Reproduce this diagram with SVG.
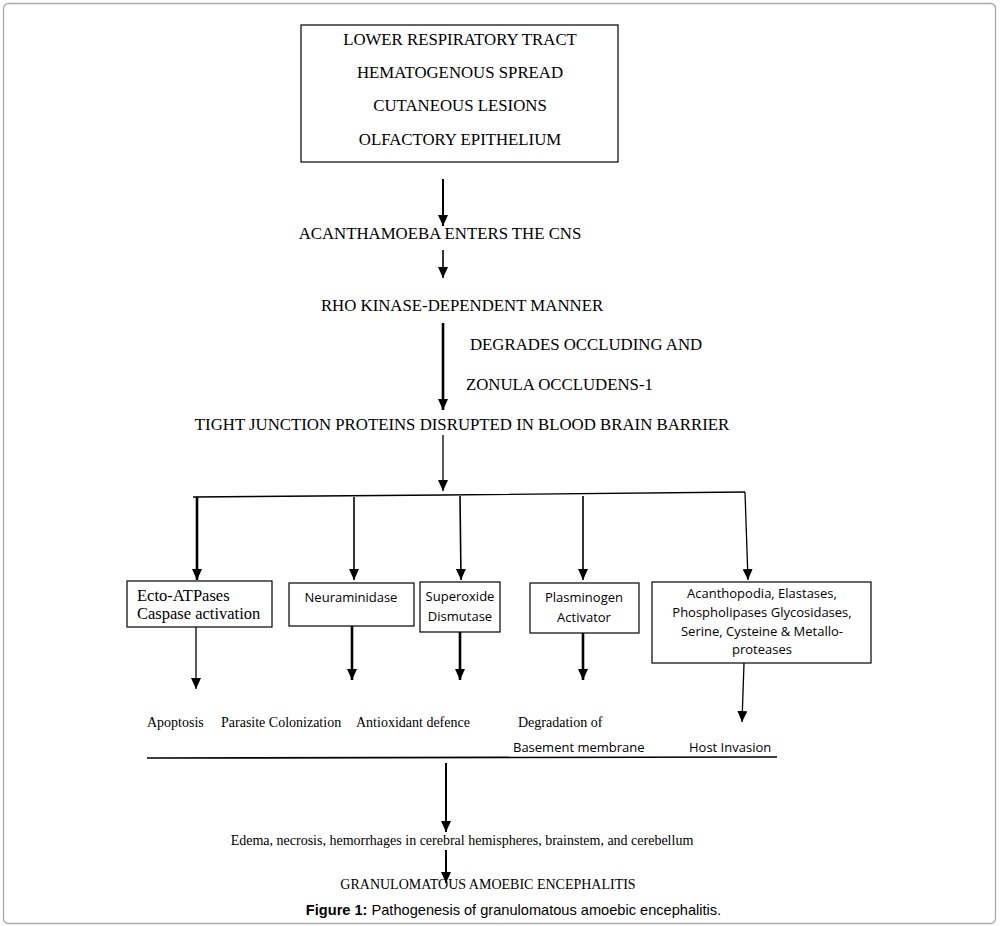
<svg xmlns="http://www.w3.org/2000/svg" width="1001" height="926" viewBox="0 0 1001 926">
<defs>
<marker id="ah" markerUnits="userSpaceOnUse" markerWidth="12" markerHeight="10" viewBox="0 0 12 10" refX="11" refY="5" orient="auto">
<path d="M0,0 L11,5 L0,10 Z" fill="#000"/>
</marker>
<style>
.serif{font-family:"Liberation Serif","Times New Roman",serif;fill:#000}
.sans{font-family:"Open Sans","Noto Sans",sans-serif;fill:#000}
.cap{font-family:"Liberation Sans",Arial,sans-serif;fill:#000;font-size:14.6px}
.box{fill:#fff;stroke:#000;stroke-width:1.2}
.ln{stroke:#000;stroke-width:1.3;fill:none}
.thk{stroke:#000;stroke-width:2.6;fill:none}
.big{font-size:16.8px}
.mid{font-size:16.5px}
.sm{font-size:13px}
.ss{font-size:14px}
</style>
</defs>
<rect x="0" y="0" width="1001" height="926" fill="#fff"/>
<rect x="3.5" y="3.5" width="992" height="920" rx="5" fill="none" stroke="#aaa" stroke-width="1.3"/>

<g id="connectors">
<line class="ln" x1="443" y1="179" x2="443" y2="226" marker-end="url(#ah)" style="stroke-width:2"/>
<line class="ln" x1="443" y1="250" x2="443" y2="278" marker-end="url(#ah)" style="stroke-width:1.6"/>
<line class="thk" x1="443" y1="323" x2="443" y2="410" marker-end="url(#ah)"/>
<line class="ln" x1="443" y1="435" x2="443" y2="491" marker-end="url(#ah)"/>
<polyline class="ln" points="193,497 443,495 745,492"/>
<line class="thk" x1="197" y1="497" x2="197" y2="580" marker-end="url(#ah)"/>
<line class="ln" x1="354" y1="497" x2="354" y2="580" marker-end="url(#ah)" style="stroke-width:1.6"/>
<line class="ln" x1="460" y1="496" x2="461" y2="580" marker-end="url(#ah)" style="stroke-width:1.6"/>
<line class="ln" x1="583" y1="496" x2="583" y2="580" marker-end="url(#ah)" style="stroke-width:1.6"/>
<line class="ln" x1="745" y1="492" x2="748" y2="580" marker-end="url(#ah)"/>
<line class="ln" x1="196" y1="627" x2="196" y2="689" marker-end="url(#ah)"/>
<line class="thk" x1="352" y1="626" x2="352" y2="680" marker-end="url(#ah)"/>
<line class="thk" x1="460" y1="632" x2="460" y2="680" marker-end="url(#ah)"/>
<line class="thk" x1="583" y1="633" x2="583" y2="680" marker-end="url(#ah)"/>
<line class="ln" x1="744" y1="663" x2="742" y2="722" marker-end="url(#ah)"/>
<line class="ln" x1="147" y1="758" x2="777" y2="757" style="stroke-width:1.6"/>
<line class="ln" x1="446" y1="763" x2="446" y2="832" marker-end="url(#ah)" style="stroke-width:2"/>
<line class="ln" x1="446" y1="850" x2="446" y2="883" marker-end="url(#ah)" style="stroke-width:2"/>
</g>

<g id="routes">
<rect class="box" x="301" y="25" width="317" height="137"/>
<text class="serif big" x="460" y="45" text-anchor="middle">LOWER RESPIRATORY TRACT</text>
<text class="serif big" x="460" y="78" text-anchor="middle">HEMATOGENOUS SPREAD</text>
<text class="serif big" x="460" y="111" text-anchor="middle">CUTANEOUS LESIONS</text>
<text class="serif big" x="460" y="145" text-anchor="middle">OLFACTORY EPITHELIUM</text>
</g>

<g id="enters">
<text class="serif big" x="440" y="239" text-anchor="middle">ACANTHAMOEBA ENTERS THE CNS</text>
</g>
<g id="rho">
<text class="serif big" x="462" y="311" text-anchor="middle">RHO KINASE-DEPENDENT MANNER</text>
</g>
<g id="degrades">
<text class="serif big" x="470" y="350">DEGRADES OCCLUDING AND</text>
<text class="serif big" x="466" y="390">ZONULA OCCLUDENS-1</text>
</g>
<g id="tight">
<text class="serif big" x="462" y="430" text-anchor="middle">TIGHT JUNCTION PROTEINS DISRUPTED IN BLOOD BRAIN BARRIER</text>
</g>

<g id="ecto">
<rect class="box" x="127" y="581" width="145" height="46"/>
<text class="serif mid" x="137" y="601">Ecto-ATPases</text>
<text class="serif mid" x="137" y="619">Caspase activation</text>
</g>
<g id="neuraminidase">
<rect class="box" x="289" y="583" width="125" height="43"/>
<text class="sans sm" x="351" y="602" text-anchor="middle">Neuraminidase</text>
</g>
<g id="superoxide">
<rect class="box" x="420" y="582" width="80" height="50"/>
<text class="sans sm" x="460" y="601" text-anchor="middle">Superoxide</text>
<text class="sans sm" x="460" y="621" text-anchor="middle">Dismutase</text>
</g>
<g id="plasminogen">
<rect class="box" x="530" y="583" width="109" height="50"/>
<text class="sans sm" x="584" y="602" text-anchor="middle">Plasminogen</text>
<text class="sans sm" x="584" y="622" text-anchor="middle">Activator</text>
</g>
<g id="acanthopodia">
<rect class="box" x="652" y="582" width="219" height="81"/>
<text class="sans sm" x="762" y="598" text-anchor="middle">Acanthopodia, Elastases,</text>
<text class="sans sm" x="762" y="617" text-anchor="middle">Phospholipases Glycosidases,</text>
<text class="sans sm" x="762" y="636" text-anchor="middle">Serine, Cysteine &amp; Metallo-</text>
<text class="sans sm" x="762" y="654" text-anchor="middle">proteases</text>
</g>

<g id="outcomes">
<text class="serif ss" x="147" y="727">Apoptosis</text>
<text class="serif ss" x="221" y="727">Parasite Colonization</text>
<text class="serif ss" x="356" y="727">Antioxidant defence</text>
<text class="serif ss" x="518" y="727">Degradation of</text>
<text class="sans sm" x="513" y="752">Basement membrane</text>
<text class="sans sm" x="689" y="752">Host Invasion</text>
</g>

<g id="edema">
<text class="serif ss" x="462" y="845" text-anchor="middle">Edema, necrosis, hemorrhages in cerebral hemispheres, brainstem, and cerebellum</text>
</g>
<g id="gae">
<text class="serif ss" x="488" y="889" text-anchor="middle">GRANULOMATOUS AMOEBIC ENCEPHALITIS</text>
</g>
<g id="caption">
<text class="cap" x="513.5" y="915" text-anchor="middle"><tspan font-weight="bold">Figure 1:</tspan> Pathogenesis of granulomatous amoebic encephalitis.</text>
</g>
</svg>
